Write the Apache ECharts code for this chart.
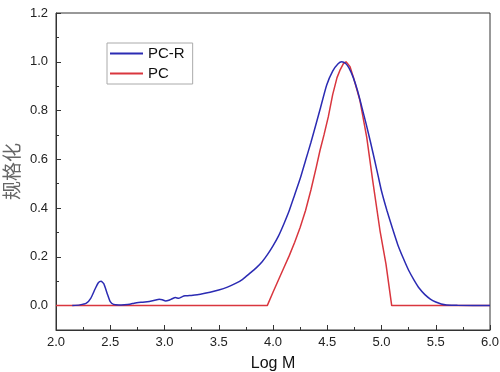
<!DOCTYPE html>
<html>
<head>
<meta charset="utf-8">
<script src="https://cdn.jsdelivr.net/npm/echarts@6/dist/echarts.min.js"></script>
<style>html,body{margin:0;padding:0;background:#fff}#c{width:500px;height:372px}</style>
</head>
<body>
<div id="c"></div>
<script>
const seriesNames = ['PC-R', 'PC'];
const xTicks = [2.0, 2.5, 3.0, 3.5, 4.0, 4.5, 5.0, 5.5, 6.0];
const yTicks = [0.0, 0.2, 0.4, 0.6, 0.8, 1.0, 1.2];
// PC-R (blue): [log M, normalized]
const pcrData = [
  [2.15,0.0],[2.22,0.003],[2.28,0.01],[2.32,0.03],[2.36,0.068],[2.39,0.094],[2.415,0.10],
  [2.44,0.09],[2.47,0.052],[2.50,0.016],[2.53,0.005],[2.58,0.003],[2.63,0.004],[2.68,0.006],
  [2.72,0.01],[2.76,0.013],[2.80,0.014],[2.84,0.016],[2.88,0.019],[2.92,0.023],[2.95,0.026],
  [2.98,0.024],[3.01,0.019],[3.04,0.022],[3.07,0.028],[3.10,0.033],[3.13,0.030],[3.16,0.036],
  [3.19,0.04],[3.23,0.041],[3.28,0.044],[3.34,0.048],[3.42,0.055],[3.50,0.064],[3.58,0.076],
  [3.66,0.092],[3.72,0.108],[3.78,0.13],[3.85,0.157],[3.90,0.18],[3.95,0.21],[4.00,0.245],
  [4.05,0.285],[4.10,0.335],[4.15,0.39],[4.20,0.455],[4.25,0.52],[4.30,0.595],[4.35,0.67],
  [4.40,0.75],[4.434,0.805],[4.495,0.905],[4.55,0.962],[4.60,0.992],[4.633,1.0],[4.67,0.993],
  [4.70,0.975],[4.74,0.935],[4.78,0.88],[4.82,0.812],[4.86,0.742],[4.90,0.668],[4.94,0.59],
  [4.97,0.53],[5.00,0.47],[5.05,0.39],[5.10,0.318],[5.15,0.25],[5.20,0.195],[5.25,0.145],
  [5.30,0.105],[5.35,0.07],[5.40,0.045],[5.45,0.027],[5.50,0.015],[5.55,0.007],[5.60,0.003],
  [5.70,0.001],[6.0,0.0]
];
// PC (red): [log M, normalized]
const pcData = [
  [2.0,0.0],[3.947,0.0],[4.0,0.055],[4.05,0.105],[4.10,0.155],[4.15,0.205],[4.20,0.26],
  [4.25,0.32],[4.30,0.39],[4.35,0.475],[4.40,0.57],[4.433,0.636],[4.47,0.70],[4.51,0.775],
  [4.55,0.865],[4.59,0.935],[4.62,0.968],[4.65,0.993],[4.673,1.0],[4.69,0.996],[4.71,0.98],
  [4.74,0.938],[4.802,0.84],[4.864,0.69],[4.919,0.513],[4.986,0.308],[5.041,0.171],
  [5.094,0.0],[6.0,0.0]
];
const xName = 'Log M';
const yName = '规格化';

const chart = echarts.init(document.getElementById('c'), null, {renderer: 'canvas'});
const font = 'Liberation Sans, Arial, sans-serif';
chart.setOption({
  animation: false,
  backgroundColor: '#fff',
  grid: {left: 56, right: 10, top: 13, bottom: 42, outerBoundsMode: 'none', containLabel: false,
         show: true, borderColor: '#333', borderWidth: 1, backgroundColor: 'transparent'},
  legend: {
    orient: 'vertical', left: 107, top: 43,
    data: seriesNames.map(n => ({name: n, icon: 'rect'})),
    itemWidth: 33, itemHeight: 2, itemGap: 5,
    padding: [3, 8, 3, 3],
    borderColor: '#aaa', borderWidth: 1, backgroundColor: '#fff',
    textStyle: {fontSize: 15, color: '#111', fontFamily: font}
  },
  xAxis: {
    type: 'value', min: 2, max: 6, interval: 0.5,
    name: xName, nameLocation: 'middle', nameGap: 26, nameMoveOverlap: false,
    nameTextStyle: {fontSize: 16, color: '#111', fontFamily: font},
    axisLine: {show: true, onZero: false, lineStyle: {color: '#333', width: 1}},
    axisTick: {show: true, inside: true, length: 5, lineStyle: {color: '#333'}},
    minorTick: {show: true, splitNumber: 2, length: 3, lineStyle: {color: '#333'}},
    axisLabel: {margin: 6, fontSize: 13, color: '#222', fontFamily: font, formatter: v => v.toFixed(1), customValues: xTicks},
    splitLine: {show: false}
  },
  yAxis: [{
    type: 'value', min: -0.1, max: 1.2, interval: 0.1,
    name: yName, nameLocation: 'middle', nameGap: 35, nameRotate: 90, nameMoveOverlap: false,
    nameTextStyle: {fontSize: 19, color: '#666', fontFamily: 'Noto Sans CJK SC, sans-serif'},
    axisLine: {show: true, onZero: false, lineStyle: {color: '#333', width: 1}},
    axisTick: {show: true, inside: true, length: 5, customValues: yTicks, lineStyle: {color: '#333'}},
    axisLabel: {margin: 8, fontSize: 13, color: '#222', fontFamily: font, formatter: v => v.toFixed(1), customValues: yTicks},
    splitLine: {show: false}
  }, {
    type: 'value', min: -0.1, max: 1.2, interval: 0.1, position: 'left', offset: 0,
    axisLine: {show: false},
    axisTick: {show: true, inside: true, length: 3, lineStyle: {color: '#333'}},
    axisLabel: {show: false},
    splitLine: {show: false}
  }],
  series: [
    {name: seriesNames[0], type: 'line', data: pcrData, showSymbol: false, smooth: 0.2, z: 3,
     lineStyle: {color: '#2b2bb3', width: 1.5}, itemStyle: {color: '#2b2bb3'}},
    {name: seriesNames[1], type: 'line', data: pcData, showSymbol: false, smooth: false, z: 2,
     lineStyle: {color: '#d9363e', width: 1.5}, itemStyle: {color: '#d9363e'}}
  ]
});
</script>
</body>
</html>
